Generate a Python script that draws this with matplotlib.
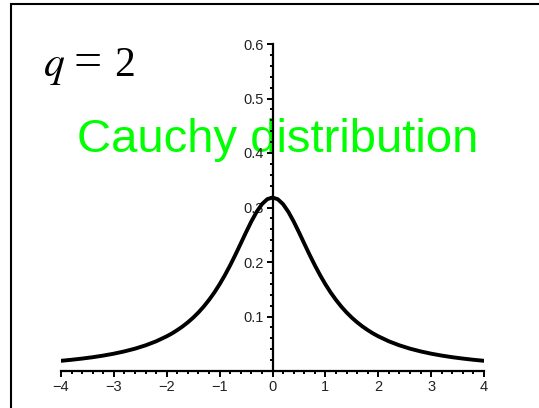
import matplotlib
matplotlib.use("Agg")
import matplotlib.pyplot as plt
import matplotlib.ticker as mticker
from matplotlib.patches import Rectangle

# density curve: finer sampling around the peak, coarser in the tails
x_vals = [-4.0, -3.8, -3.6, -3.4, -3.2, -3.0, -2.8, -2.6, -2.4, -2.2,
          -2.0, -1.9, -1.8, -1.7, -1.6, -1.5, -1.4, -1.3, -1.2, -1.1,
          -1.0, -0.9, -0.8, -0.7, -0.6, -0.5, -0.4, -0.3, -0.2, -0.1,
          0.0,
          0.1, 0.2, 0.3, 0.4, 0.5, 0.6, 0.7, 0.8, 0.9, 1.0,
          1.1, 1.2, 1.3, 1.4, 1.5, 1.6, 1.7, 1.8, 1.9, 2.0,
          2.2, 2.4, 2.6, 2.8, 3.0, 3.2, 3.4, 3.6, 3.8, 4.0]
density = [0.0187, 0.0206, 0.0228, 0.0253, 0.0283, 0.0318, 0.0360, 0.0410, 0.0471, 0.0545,
           0.0637, 0.0690, 0.0751, 0.0818, 0.0894, 0.0979, 0.1075, 0.1183, 0.1305, 0.1440,
           0.1592, 0.1759, 0.1941, 0.2136, 0.2340, 0.2546, 0.2744, 0.2920, 0.3061, 0.3152,
           0.3183,
           0.3152, 0.3061, 0.2920, 0.2744, 0.2546, 0.2340, 0.2136, 0.1941, 0.1759, 0.1592,
           0.1440, 0.1305, 0.1183, 0.1075, 0.0979, 0.0894, 0.0818, 0.0751, 0.0690, 0.0637,
           0.0545, 0.0471, 0.0410, 0.0360, 0.0318, 0.0283, 0.0253, 0.0228, 0.0206, 0.0187]

x_ticks = [-4, -3, -2, -1, 0, 1, 2, 3, 4]
y_ticks = [0.1, 0.2, 0.3, 0.4, 0.5, 0.6]

W, H = 539, 408
fig = plt.figure(figsize=(W / 100, H / 100), dpi=100)
ax = fig.add_axes([61 / W, (H - 371) / H, (484 - 61) / W, (371 - 44) / H])
ax.patch.set_visible(False)

ax.plot(x_vals, density, color="black", lw=2.8, solid_joinstyle="round")

ax.set_xlim(-4, 4)
ax.set_ylim(0, 0.6)
ax.spines["left"].set_position(("data", 0))
ax.spines["top"].set_visible(False)
ax.spines["right"].set_visible(False)
for s in ("left", "bottom"):
    ax.spines[s].set_linewidth(1.6)

ax.set_xticks(x_ticks)
ax.set_xticklabels([f"{t}".replace("-", "\u2212") for t in x_ticks])
ax.set_yticks(y_ticks)
ax.set_yticklabels([f"{t:.1f}" for t in y_ticks])
ax.xaxis.set_minor_locator(mticker.MultipleLocator(0.2))
ax.yaxis.set_minor_locator(mticker.MultipleLocator(0.02))
ax.tick_params(which="major", length=4.5, width=1.4, direction="out", pad=2,
               labelsize=10.5, labelcolor="#222222")
ax.tick_params(which="minor", length=2.5, width=1.4, direction="out")
for lab in ax.get_xticklabels() + ax.get_yticklabels():
    lab.set_family("Liberation Sans")

# "q = 2" set piece by piece so the wide spacing around "=" is kept
plt.rcParams["mathtext.fontset"] = "stix"
base = (H - 76) / H
fig.text(43 / W, base, r"$q$", fontsize=30, ha="left", va="baseline")
fig.text(74 / W, base, "=", fontsize=36, family="Liberation Serif",
         ha="left", va="baseline")
fig.text(114 / W, base, "2", fontsize=30, family="Liberation Serif",
         ha="left", va="baseline")

ax.text(278 / W, (H - 152) / H, "Cauchy distribution", transform=fig.transFigure,
        fontsize=34, color="#00ff00", family="Liberation Sans",
        ha="center", va="baseline", zorder=1)

# open frame: only the left and top edges fall inside the canvas
fig.patches.append(Rectangle((10.5 / W, -0.1), 2.0, (H - 4) / H + 0.1,
                             transform=fig.transFigure, fill=False,
                             edgecolor="black", lw=1.5))

fig.savefig("out.png", dpi=100)
